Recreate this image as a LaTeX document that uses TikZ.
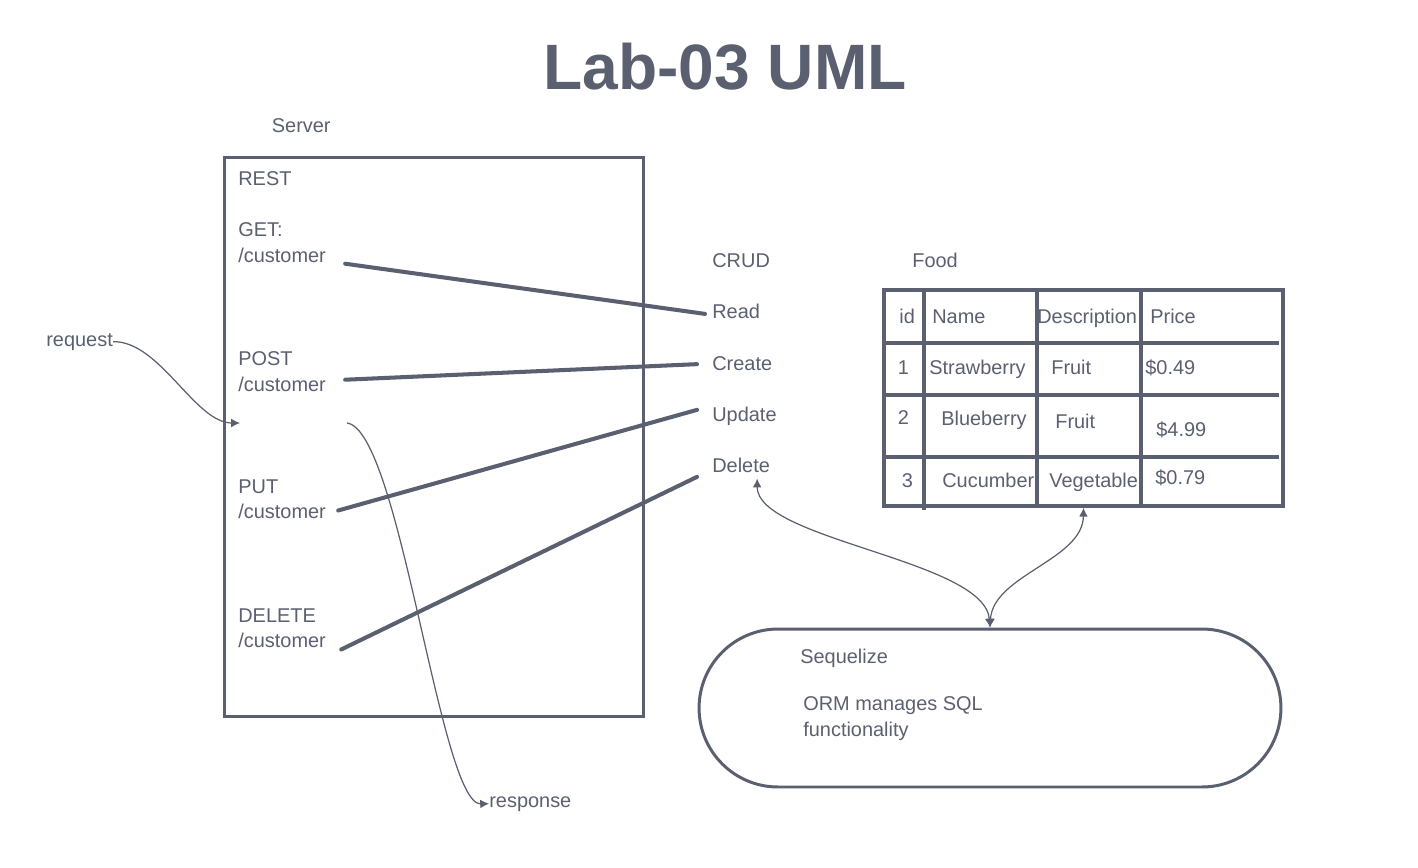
\documentclass[tikz,border=0pt]{standalone}
\usepackage{fontspec}
\setmainfont{Liberation Sans}
\usepackage{tikz}
\usetikzlibrary{positioning,arrows.meta,shapes.misc}

\definecolor{ink}{HTML}{5A6070}

\begin{document}
\begin{tikzpicture}[x=0.02cm, y=-0.02cm,
	every node/.style={text=ink, inner sep=0pt},
	lbl/.style={font=\fontsize{11.34}{14.74}\selectfont, anchor=base west},
	stack/.style={font=\fontsize{11.34}{14.74}\selectfont, anchor=north west, align=left},
	crudline/.style={ink, line width=2.3pt, line cap=round},
	tabline/.style={ink, line width=2pt},
	flow/.style={ink, line width=0.7pt, -{Latex[length=5pt,width=5pt]}},
	both/.style={ink, line width=0.7pt, {Latex[length=5pt,width=5pt]}-{Latex[length=5pt,width=5pt]}}]

	\useasboundingbox (0,0) rectangle (1418,867);

	\node[font=\fontsize{36.5}{44}\selectfont\bfseries] (TITLE) at (725,67) {Lab-03 UML};

	% server
	\node[draw=ink,
	rectangle,
	line width=1.7pt,
	minimum width=8.4cm,
	minimum height=11.2cm] (SERVER) at (434,437) {};

	\node[lbl] (serverlbl) [above right = 0.46cm and 0.98cm of SERVER.north west] {Server};

	\node[lbl] (rest) at (238,185) {REST};
	\node[stack] (get) at (238,222) {GET:\\/customer};
	\node[stack] (post) at (238,351) {POST\\/customer};
	\node[stack] (put) at (238,479) {PUT\\/customer};
	\node[stack] (delete) at (238,608) {DELETE\\/customer};

	% crud
	\node[lbl] (crud) at (712,267) {CRUD};
	\foreach \name/\txt/\y in {read/Read/318, create/Create/370, update/Update/421, del/Delete/472}
		\node[lbl] (\name) at (712,\y) {\txt};

	\draw[crudline] ([shift={(19,1)}]get.south east) -- ([shift={(-7,3)}]read.west);
	\draw[crudline] ([shift={(19,-12)}]post.south east) -- ([shift={(-15,1)}]create.west);
	\draw[crudline] ([shift={(12,-9)}]put.south east) -- ([shift={(-15,-6)}]update.west);
	\draw[crudline] ([shift={(15,1)}]delete.south east) -- ([shift={(-15,12)}]del.west);

	% food table
	\node[lbl] (foodlbl) at (912,267) {Food};

	\node[draw=ink,
	rectangle,
	line width=2pt,
	minimum width=7.98cm,
	minimum height=4.32cm] (FOOD) at (1083.5,398) {};

	\foreach \y in {343,395,457}
		\draw[tabline] (884,\y) -- (1279,\y);
	\foreach \x/\b in {924/510,1037/506,1141/506}
		\draw[tabline] (\x,290) -- (\x,\b);

	\foreach \cx/\cy/\txt [count=\i] in {899/323/id, 932/323/Name, 1037/323/Description, 1150/323/Price,
		897.5/374/1, 929/374/Strawberry, 1051/374/Fruit, 1145/374/\$0.49,
		897.5/424/2, 941/425/Blueberry, 1055/428/Fruit, 1156/436/\$4.99,
		901.5/487/3, 942/487/Cucumber, 1049/487/Vegetable, 1155/484/\$0.79}
		\node[lbl] (cell\i) at (\cx,\cy) {\txt};

	% sequelize
	\node[draw=ink,
	rounded rectangle,
	line width=1.7pt,
	minimum width=11.64cm,
	minimum height=3.16cm] (ORM) at (990,708) {};

	\node[lbl] (seqlbl) at (800,663) {Sequelize};
	\node[stack] (ormtxt) at (803,696) {ORM manages SQL\\functionality};

	% request / response
	\node[lbl] (request) at (46,346) {request};
	\node[lbl] (response) at (489,807) {response};
	\coordinate (reqin) at (240,423);
	\coordinate (resout) at (347,423);

	\draw[flow] (request.east) .. controls (160,341) and (195,423) .. (reqin);
	\draw[flow] (resout) .. controls (400,430) and (440,805) .. (response.west);

	\draw[both] ([shift={(16,6)}]del.south) .. controls (757,540) and (985,560) .. (ORM.north);
	\draw[both] (FOOD.south) .. controls (1083,560) and (993,575) .. (ORM.north);

\end{tikzpicture}
\end{document}
